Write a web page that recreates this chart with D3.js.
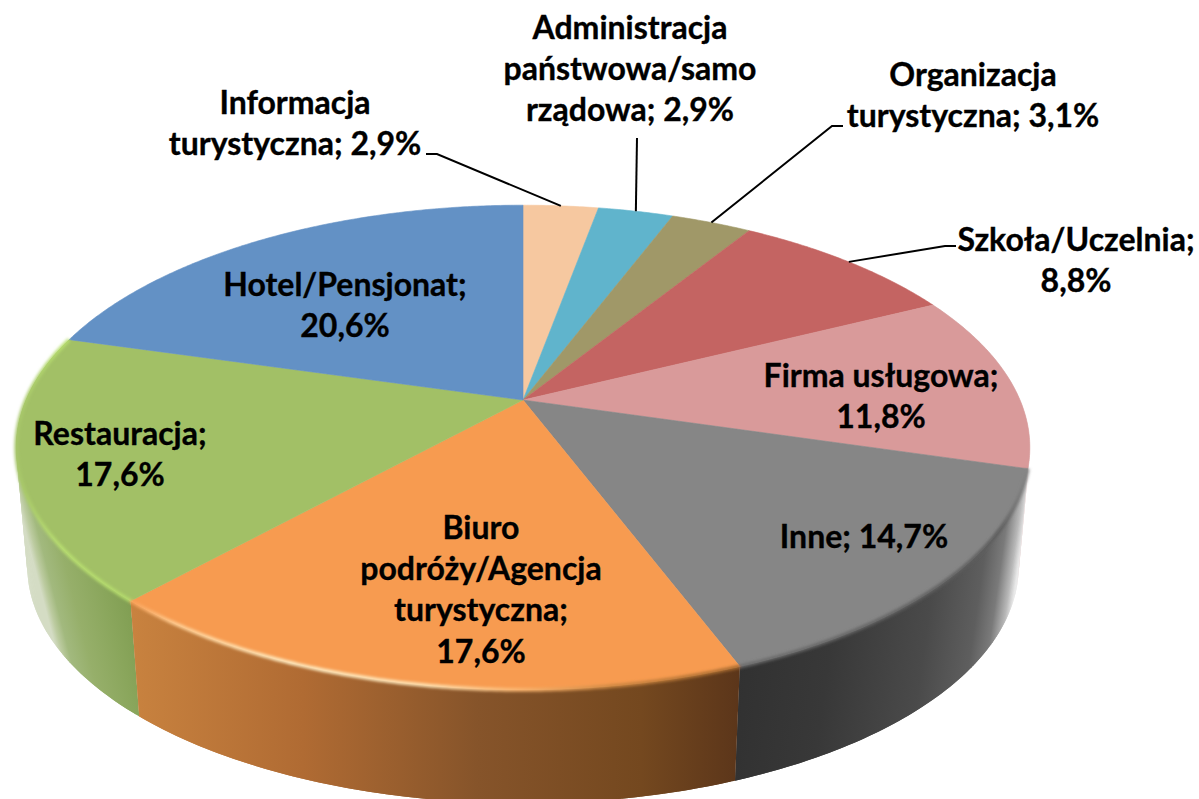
<!DOCTYPE html>
<html>
<head>
<meta charset="utf-8">
<script src="https://cdn.jsdelivr.net/npm/d3@7"></script>
<style>
  html, body { margin: 0; padding: 0; background: #fff; overflow: hidden; }
  svg { display: block; }
  text { font-family: Lato, "Open Sans", sans-serif; font-weight: 700; fill: #000; stroke: #000; stroke-width: 0.35; }
</style>
</head>
<body>
<div id="canvas"></div>
<script>
// clockwise from 12 o'clock; "|" is a forced line break in the label
var categories = ["Informacja|turystyczna", "Administracja|państwowa/samo|rządowa", "Organizacja|turystyczna",
  "Szkoła/Uczelnia", "Firma usługowa", "Inne", "Biuro|podróży/Agencja|turystyczna", "Restauracja", "Hotel/Pensjonat"];
var values = [2.9, 2.9, 3.1, 8.8, 11.8, 14.7, 17.6, 17.6, 20.6];

var colors = ["#f6c8a0", "#60b4cc", "#a09868", "#c46462", "#d99a9a", "#868686", "#f79b50", "#a2c066", "#6391c5"];

// outer wall shading: gradient vector, then [offset 0-1, colour]
var sideShade = {
  4: {from: [1000, 440], to: [1032, 440], stops: [[0, "#dcdcdc"], [1, "#f0e0e0"]]},
  5: {from: [738, 470], to: [1026, 511], stops: [[0, "#2f2f2f"], [0.4, "#383838"], [0.72, "#4a4a4a"], [0.88, "#5e5e5e"], [0.94, "#7a7a7a"], [0.98, "#b8b8b8"], [1, "#e8e8e8"]]},
  6: {from: [133, 600], to: [738, 600], stops: [[0, "#c8823f"], [0.28, "#b06b33"], [0.57, "#86542a"], [0.84, "#74481f"], [1, "#5c361a"]]},
  7: {from: [20, 510], to: [117, 485], stops: [[0, "#d4dcc4"], [0.05, "#bccba0"], [0.12, "#a2b97e"], [0.3, "#96af6a"], [0.6, "#8aa65c"], [0.9, "#7e9c50"]]}
};
var rimShade = {
  5: {from: [738, 0], to: [1030, 0], stops: [[0, "#6a6a6a"], [0.9, "#5c5c5c"], [1, "#8a8a8a"]]},
  6: {from: [133, 0], to: [738, 0], stops: [[0, "#f9a35a"], [0.07, "#ffcf95"], [0.26, "#fff0c8"], [0.49, "#ffe6b8"], [0.64, "#fbb670"], [0.8, "#c9843f"], [1, "#a5692e"]]},
  7: {from: [14, 0], to: [133, 0], stops: [[0, "#a6c56a"], [0.4, "#b9e070"], [1, "#b4dc6c"]]}
};

// centre of each label's first line, and whether the value sits on its own line
var labelPos = [
  {x: 295, y: 103, own: false}, {x: 630, y: 28, own: false}, {x: 973, y: 75, own: false},
  {x: 1076, y: 240, own: true}, {x: 881, y: 376, own: true}, {x: 864, y: 537, own: false},
  {x: 481, y: 528, own: true}, {x: 120, y: 434, own: true}, {x: 345, y: 285, own: true}
];
// elbow of the leader lines: where it leaves the text, then the bend
var leaders = {
  0: [[426, 154], [437, 154]],
  1: [[637, 138]],
  2: [[843, 126], [832, 126]],
  3: [[956, 246], [945, 246]]
};

var width = 1199, height = 799, lineH = 41.2, fontSize = 32;
var apex = {x: 523, y: 400};
var persp = 0.196, rx = 497, ry = 233;   // tilted circle
var wallShrink = 0.978, wallDrop = 120;

function top3d(a) {
  var u = Math.sin(a), v = Math.cos(a), w = 1 + persp * v;
  return [apex.x + rx * u / w, apex.y - ry * v / w];
}
function bottom3d(a) {
  var p = top3d(a);
  return [apex.x + (p[0] - apex.x) * wallShrink, apex.y + (p[1] - apex.y) * wallShrink + wallDrop];
}
function samples(d) {
  return d3.range(d.startAngle, d.endAngle, 0.008).concat([d.endAngle]);
}

var svg = d3.select("#canvas").append("svg").attr("width", width).attr("height", height);
var defs = svg.append("defs");
defs.append("filter").attr("id", "soft").attr("x", "-5%").attr("y", "-5%").attr("width", "110%").attr("height", "110%")
  .append("feGaussianBlur").attr("stdDeviation", 1.5);

function gradient(id, shade) {
  var g = defs.append("linearGradient").attr("id", id).attr("gradientUnits", "userSpaceOnUse")
    .attr("x1", shade.from[0]).attr("y1", shade.from[1]).attr("x2", shade.to[0]).attr("y2", shade.to[1]);
  shade.stops.forEach(function (s) { g.append("stop").attr("offset", s[0]).attr("stop-color", s[1]); });
  return "url(#" + id + ")";
}

var arcs = d3.pie().sort(null).value(function (d) { return d; })(values);
var line = d3.line();

// walls first, the top face hides whatever is behind it
// one quad per step, each reaching over the next step: a single outline folds
// over itself at the silhouette and loses that part, touching quads leave seams
var walls = svg.append("g");
[4, 7, 5, 6].forEach(function (i) {
  var pts = samples(arcs[i]);
  var fill = gradient("side" + i, sideShade[i]);
  walls.append("g").selectAll("path").data(pts.slice(0, -1)).enter().append("path")
    .attr("d", function (a, j) {
      var b = pts[Math.min(j + 2, pts.length - 1)];
      return line([top3d(a), top3d(b), bottom3d(b), bottom3d(a)]) + "Z";
    })
    .attr("fill", fill);
});

svg.append("g").selectAll("path").data(arcs).enter().append("path")
  .attr("d", function (d) { return line([[apex.x, apex.y]].concat(samples(d).map(top3d))) + "Z"; })
  .attr("fill", function (d, i) { return colors[i]; })
  .attr("stroke", function (d, i) { return colors[i]; })
  .attr("stroke-width", 0.6);

// bevel along the front edge
var rim = svg.append("g").attr("filter", "url(#soft)");
[7, 5, 6].forEach(function (i) {
  rim.append("path").attr("d", line(samples(arcs[i]).map(top3d)))
    .attr("fill", "none").attr("stroke", gradient("rim" + i, rimShade[i])).attr("stroke-width", 3.5);
});

// leader lines run to the middle of the slice
var leaderG = svg.append("g");
Object.keys(leaders).forEach(function (k) {
  var d = arcs[+k];
  var end = top3d((d.startAngle + d.endAngle) / 2);
  leaderG.append("path").attr("d", line(leaders[k].concat([end])))
    .attr("fill", "none").attr("stroke", "#000").attr("stroke-width", 2);
});

function fmt(v) { return v.toFixed(1).replace(".", ",") + "%"; }

var labels = svg.append("g").attr("font-size", fontSize).attr("text-anchor", "middle");
categories.forEach(function (name, i) {
  var lines = name.split("|");
  var pos = labelPos[i];
  lines[lines.length - 1] += ";";
  if (pos.own) { lines.push(fmt(values[i])); }
  else { lines[lines.length - 1] += " " + fmt(values[i]); }
  lines.forEach(function (t, j) {
    labels.append("text").attr("x", pos.x).attr("y", pos.y + j * lineH + 11).text(t);
  });
});
</script>
</body>
</html>
